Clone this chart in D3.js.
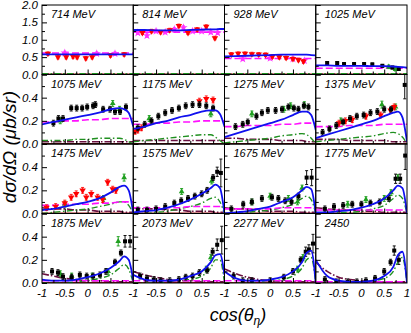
<!DOCTYPE html>
<html>
<head>
<meta charset="utf-8">
<script src="https://cdn.jsdelivr.net/npm/d3@7"></script>
<style>
body{margin:0;background:#fff;}
text{font-family:"Liberation Sans",Arial,sans-serif;font-style:italic;}
</style>
</head>
<body>
<svg width="411" height="333"></svg>
<script>
const svg=d3.select("svg");
const x0=42, colW=91.25, y0=5, rowH=69.5;

const energies=["714 MeV","814 MeV","928 MeV","1025 MeV","1075 MeV","1175 MeV","1275 MeV","1375 MeV",
  "1475 MeV","1575 MeV","1675 MeV","1775 MeV","1875 MeV","2073 MeV","2277 MeV","2450"];
const cosGrid=[-1,-0.75,-0.5,-0.25,0,0.25,0.5,0.7,0.8,0.9,1];

// full model (blue)
const blueCurves=[
  [0.58,0.58,0.58,0.58,0.58,0.58,0.58,0.58,0.58,0.58,0.58],
  [1.28,1.28,1.27,1.27,1.27,1.28,1.29,1.3,1.3,1.31,1.31],
  [0.52,0.53,0.54,0.55,0.56,0.57,0.57,0.57,0.57,0.56,0.55],
  [0.26,0.26,0.25,0.25,0.25,0.24,0.24,0.23,0.22,0.21,0.2],
  [0.17,0.19,0.21,0.23,0.25,0.27,0.3,0.31,0.3,0.27,0.15],
  [0.13,0.15,0.18,0.2,0.23,0.25,0.28,0.29,0.29,0.26,0.15],
  [0.06,0.09,0.12,0.15,0.18,0.21,0.25,0.28,0.28,0.25,0.12],
  [0.05,0.08,0.11,0.14,0.17,0.2,0.24,0.27,0.28,0.23,0.02],
  [0.03,0.04,0.06,0.08,0.1,0.13,0.18,0.23,0.24,0.2,0.0],
  [0.01,0.02,0.03,0.05,0.08,0.12,0.17,0.22,0.25,0.22,0.0],
  [0.0,0.01,0.02,0.04,0.06,0.1,0.14,0.2,0.23,0.21,0.0],
  [0.01,0.01,0.02,0.03,0.05,0.08,0.13,0.2,0.24,0.22,0.0],
  [0.03,0.02,0.02,0.03,0.05,0.08,0.13,0.19,0.23,0.2,0.02],
  [0.07,0.03,0.02,0.02,0.03,0.06,0.1,0.18,0.24,0.25,0.07],
  [0.1,0.04,0.02,0.02,0.03,0.05,0.1,0.18,0.26,0.28,0.0],
  [0.2,0.06,0.02,0.01,0.01,0.02,0.06,0.14,0.24,0.27,0.0]
];
// magenta dashed
const magentaCurves=[
  [0.62,0.62,0.62,0.62,0.62,0.62,0.62,0.62,0.62,0.62,0.62],
  [1.22,1.22,1.22,1.22,1.22,1.22,1.22,1.22,1.22,1.22,1.22],
  [0.46,0.46,0.46,0.46,0.46,0.46,0.46,0.46,0.46,0.46,0.46],
  [0.18,0.18,0.18,0.18,0.18,0.18,0.18,0.18,0.18,0.18,0.18],
  [0.19,0.19,0.2,0.2,0.21,0.21,0.22,0.22,0.22,0.22,0.22],
  [0.17,0.17,0.18,0.18,0.19,0.19,0.2,0.2,0.2,0.2,0.2],
  [0.15,0.15,0.16,0.16,0.16,0.17,0.17,0.18,0.18,0.18,0.18],
  [0.15,0.15,0.15,0.16,0.16,0.16,0.17,0.17,0.17,0.17,0.17],
  [0.07,0.07,0.08,0.08,0.08,0.09,0.09,0.1,0.1,0.1,0.1],
  [0.05,0.05,0.05,0.05,0.05,0.06,0.06,0.06,0.06,0.06,0.06],
  [0.04,0.04,0.04,0.04,0.04,0.05,0.05,0.05,0.05,0.05,0.05],
  [0.03,0.03,0.03,0.03,0.03,0.03,0.03,0.03,0.03,0.03,0.03],
  [0.02,0.02,0.02,0.02,0.02,0.02,0.02,0.02,0.02,0.02,0.02],
  [0.02,0.02,0.02,0.02,0.02,0.02,0.02,0.02,0.02,0.02,0.02],
  [0.02,0.02,0.02,0.02,0.02,0.02,0.02,0.02,0.02,0.02,0.02],
  [0.01,0.01,0.01,0.01,0.01,0.01,0.01,0.01,0.01,0.01,0.01]
];
// green dash-dot
const greenCurves=[
  [0.02,0.02,0.02,0.02,0.02,0.02,0.02,0.02,0.02,0.02,0.02],
  [0.02,0.02,0.02,0.02,0.02,0.02,0.02,0.02,0.02,0.02,0.02],
  [0.02,0.02,0.02,0.02,0.02,0.02,0.02,0.02,0.02,0.02,0.02],
  [0.02,0.02,0.02,0.02,0.02,0.02,0.02,0.02,0.02,0.02,0.02],
  [0.03,0.03,0.03,0.04,0.04,0.05,0.05,0.05,0.04,0.02,0.0],
  [0.02,0.03,0.04,0.05,0.06,0.07,0.08,0.08,0.06,0.03,0.0],
  [0.01,0.02,0.03,0.04,0.05,0.07,0.08,0.09,0.08,0.05,0.0],
  [0.02,0.03,0.04,0.05,0.06,0.07,0.09,0.1,0.09,0.06,0.0],
  [0.0,0.01,0.02,0.03,0.04,0.06,0.08,0.1,0.1,0.07,0.0],
  [0.0,0.0,0.01,0.02,0.04,0.06,0.09,0.13,0.14,0.1,0.0],
  [0.0,0.0,0.01,0.02,0.03,0.05,0.08,0.13,0.15,0.12,0.0],
  [0.0,0.0,0.01,0.01,0.02,0.04,0.07,0.13,0.16,0.13,0.0],
  [0.0,0.0,0.0,0.01,0.02,0.04,0.07,0.13,0.16,0.12,0.0],
  [0.0,0.0,0.0,0.01,0.02,0.03,0.06,0.13,0.2,0.2,0.0],
  [0.0,0.0,0.0,0.01,0.01,0.03,0.06,0.13,0.2,0.22,0.0],
  [0.0,0.0,0.0,0.0,0.01,0.02,0.04,0.1,0.18,0.22,0.0]
];
// dark purple long dash
const purpleCurves=[
  [0.01,0.01,0.01,0.01,0.01,0.01,0.01,0.01,0.01,0.01,0.01],
  [0.01,0.01,0.01,0.01,0.01,0.01,0.01,0.01,0.01,0.01,0.01],
  [0.01,0.01,0.01,0.01,0.01,0.01,0.01,0.01,0.01,0.01,0.01],
  [0.01,0.01,0.01,0.01,0.01,0.01,0.01,0.01,0.01,0.01,0.01],
  [0.02,0.02,0.02,0.02,0.02,0.02,0.02,0.02,0.02,0.02,0.02],
  [0.03,0.03,0.03,0.03,0.03,0.03,0.03,0.03,0.03,0.03,0.03],
  [0.05,0.05,0.04,0.04,0.04,0.03,0.03,0.03,0.02,0.02,0.02],
  [0.04,0.04,0.04,0.03,0.03,0.03,0.03,0.02,0.02,0.02,0.02],
  [0.05,0.04,0.04,0.03,0.03,0.02,0.02,0.02,0.01,0.01,0.01],
  [0.05,0.04,0.04,0.03,0.03,0.02,0.02,0.02,0.01,0.01,0.01],
  [0.05,0.04,0.04,0.03,0.02,0.02,0.02,0.01,0.01,0.01,0.01],
  [0.05,0.04,0.03,0.03,0.02,0.02,0.01,0.01,0.01,0.01,0.01],
  [0.08,0.06,0.04,0.03,0.02,0.02,0.01,0.01,0.01,0.01,0.01],
  [0.1,0.07,0.05,0.03,0.02,0.02,0.01,0.01,0.01,0.01,0.01],
  [0.12,0.08,0.05,0.03,0.02,0.01,0.01,0.01,0.01,0.01,0.01],
  [0.18,0.1,0.05,0.03,0.02,0.01,0.01,0.01,0.01,0.01,0.01]
];

// data points [cos, value, error]
const blackPts=[
  [],[],[],
  [[-0.75,0.33,0.04],[-0.53,0.33,0.04],[-0.38,0.3,0.04],[-0.16,0.3,0.04],[0.06,0.3,0.04],[0.24,0.29,0.04],[0.46,0.25,0.04],[0.68,0.2,0.04],[0.82,0.16,0.04]],
  [[-0.75,0.18],[-0.64,0.22],[-0.54,0.22],[-0.36,0.31],[-0.24,0.31],[-0.12,0.31],[-0.01,0.32],[0.12,0.33],[0.17,0.34],[0.34,0.3],[0.49,0.3],[0.6,0.28],[0.71,0.28],[0.84,0.32]],
  [[-0.9,0.14],[-0.75,0.17],[-0.6,0.2],[-0.45,0.24],[-0.3,0.27],[-0.15,0.29],[0,0.31],[0.15,0.33],[0.3,0.34],[0.45,0.34],[0.6,0.33],[0.75,0.31]],
  [[-0.76,0.15],[-0.6,0.17],[-0.49,0.19],[-0.3,0.24],[-0.18,0.27],[-0.05,0.29],[0.12,0.29],[0.26,0.3],[0.4,0.32],[0.52,0.31],[0.62,0.3],[0.74,0.33],[0.84,0.32]],
  [[-0.85,0.1],[-0.7,0.13],[-0.55,0.16],[-0.4,0.19],[-0.25,0.22],[-0.1,0.24],[0.05,0.25],[0.2,0.27],[0.35,0.28],[0.5,0.3],[0.65,0.3],[0.95,0.51,0.12]],
  [],
  [[-0.9,0.03],[-0.7,0.03],[-0.5,0.04],[-0.3,0.06],[-0.1,0.09],[0.05,0.11],[0.2,0.13],[0.35,0.15],[0.5,0.17],[0.62,0.2],[0.75,0.31],[0.84,0.36,0.04],[0.92,0.35,0.12]],
  [[-0.85,0.04],[-0.59,0.08],[-0.4,0.1],[-0.18,0.13],[0.04,0.14],[0.18,0.13],[0.33,0.11],[0.47,0.1],[0.62,0.15],[0.8,0.31,0.06],[0.91,0.31,0.07]],
  [[-0.8,0.04],[-0.6,0.06],[-0.4,0.07],[-0.2,0.08],[0,0.08],[0.2,0.09],[0.4,0.1],[0.6,0.13],[0.75,0.3,0.04],[0.85,0.3,0.04],[0.96,0.5,0.12]],
  [[-0.78,0.1],[-0.65,0.09],[-0.54,0.055],[-0.35,0.05],[-0.17,0.07],[-0.02,0.06],[0.12,0.06],[0.27,0.07],[0.4,0.1],[0.6,0.18],[0.73,0.26],[0.82,0.36,0.05],[0.93,0.36,0.05]],
  [[-0.85,0.06],[-0.7,0.04],[-0.55,0.03],[-0.4,0.02],[-0.2,0.02],[0,0.03],[0.15,0.05],[0.3,0.06],[0.45,0.09],[0.62,0.11],[0.74,0.27,0.03],[0.84,0.33,0.05],[0.94,0.37,0.12]],
  [[-0.8,0.06],[-0.6,0.02],[-0.4,0.02],[0,0.02],[0.3,0.05],[0.5,0.1],[0.67,0.2],[0.78,0.27,0.04],[0.85,0.29,0.04],[0.94,0.34,0.08]],
  [[-0.8,0.03],[-0.55,0.01],[-0.3,0.01],[-0.1,0.01],[0.1,0.02],[0.3,0.04],[0.5,0.1],[0.64,0.18],[0.72,0.28,0.04],[0.82,0.2,0.04]]
];
const redPts=[
  [[-0.87,0.6],[-0.65,0.5],[-0.47,0.5],[-0.32,0.52],[-0.23,0.5],[-0.04,0.47],[0.1,0.5],[0.5,0.55],[0.8,0.58]],
  [[-0.8,1.2],[-0.6,1.25],[-0.4,1.22],[-0.2,1.28],[0,1.4],[0.2,1.2],[0.4,1.3],[0.6,1.38],[0.79,1.05]],
  [[-0.85,0.58],[-0.7,0.6],[-0.55,0.6],[-0.4,0.59],[-0.25,0.58],[-0.1,0.57],[0.05,0.52],[0.2,0.5],[0.35,0.48],[0.5,0.45],[0.62,0.42],[0.73,0.38]],
  [],[],
  [[-0.96,0.11],[-0.9,0.12],[-0.82,0.14],[0.45,0.37],[0.6,0.39],[0.75,0.38]],
  [],
  [[-0.49,0.18],[-0.35,0.2],[-0.2,0.21],[0.1,0.24],[0.42,0.25],[0.64,0.29],[0.72,0.32]],
  [[-0.9,0.05],[-0.7,0.06],[-0.5,0.09],[-0.36,0.14],[-0.25,0.17],[-0.11,0.2],[-0.03,0.14],[0.08,0.17],[0.22,0.14],[0.33,0.12],[0.44,0.27],[0.55,0.21],[0.62,0.2]],
  [],[],[],[],[],[],[]
];
const greenPts=[
  [],[],[],
  [[0.6,0.22],[0.75,0.15]],
  [[-0.6,0.2],[0.55,0.35],[0.7,0.3]],
  [[-0.65,0.22],[0.7,0.26]],
  [[-0.4,0.26],[0.3,0.3],[0.45,0.33],[0.75,0.34]],
  [[-0.45,0.2],[0.45,0.34,0.03],[0.75,0.32]],
  [[-0.5,0.08],[0.35,0.13],[0.8,0.31,0.03]],
  [[0.06,0.19],[0.72,0.28]],
  [[-0.4,0.1],[0.0,0.15],[0.4,0.13],[0.6,0.1],[0.7,0.22]],
  [[-0.3,0.08],[0.1,0.12],[0.5,0.13],[0.65,0.18],[0.8,0.31]],
  [[-0.6,0.08],[-0.35,0.06],[0.1,0.06],[0.45,0.1],[0.67,0.36,0.04]],
  [[0.6,0.12],[0.7,0.22]],
  [[0.6,0.12],[0.72,0.22]],
  []
];
const starPts=[
  [[-0.5,0.62],[0.2,0.6],[0.6,0.6]],
  [[-0.9,1.2],[-0.7,1.12],[-0.5,1.25],[-0.3,1.22],[-0.1,1.3],[0.1,1.35],[0.3,1.25],[0.5,1.25],[0.7,1.22],[0.85,1.2]],
  [[-0.6,0.45],[0.0,0.47],[0.5,0.45],[0.75,0.4]],
  [],[],[],[],[],[],[],[],[],[],[],[],[]
];

const defs=svg.append("defs");
const line=(x,y)=>d3.line().x(d=>x(d[0])).y(d=>y(d[1])).curve(d3.curveMonotoneX);

energies.forEach((lab,i)=>{
  const r=Math.floor(i/4), c=i%4;
  const left=x0+c*colW, top=y0+r*rowH;
  const x=d3.scaleLinear().domain([-1,1]).range([left,left+colW]);
  const y=d3.scaleLinear().domain(r==0?[0,2]:[0,0.6]).range([top+rowH,top]);
  const defErr=r==0?0.05:0.025;

  defs.append("clipPath").attr("id","cp"+i).append("rect")
    .attr("x",left).attr("y",top).attr("width",colW).attr("height",rowH);
  const g=svg.append("g").attr("clip-path","url(#cp"+i+")");

  // ticks inward
  const yMajor=r==0?d3.range(0,2.01,0.5):d3.range(0,0.61,0.2);
  const yMinor=r==0?d3.range(0.25,2,0.5):d3.range(0.1,0.6,0.2);
  svg.append("g").attr("transform","translate("+left+",0)")
    .call(d3.axisRight(y).tickValues(yMajor).tickSize(5).tickFormat(""))
    .call(a=>a.select(".domain").remove());
  svg.append("g").attr("transform","translate("+left+",0)")
    .call(d3.axisRight(y).tickValues(yMinor).tickSize(3).tickFormat(""))
    .call(a=>a.select(".domain").remove());
  svg.append("g").attr("transform","translate(0,"+(top+rowH)+")")
    .call(d3.axisTop(x).tickValues([-0.5,0,0.5]).tickSize(5).tickFormat(""))
    .call(a=>a.select(".domain").remove());
  svg.append("g").attr("transform","translate(0,"+(top+rowH)+")")
    .call(d3.axisTop(x).tickValues([-0.75,-0.25,0.25,0.75]).tickSize(3).tickFormat(""))
    .call(a=>a.select(".domain").remove());

  // baseline dark red
  g.append("line").attr("x1",left).attr("x2",left+colW)
    .attr("y1",y(0)-0.5).attr("y2",y(0)-0.5).attr("stroke","#a01010").attr("stroke-width",1.2);

  const toPts=arr=>cosGrid.map((cx,k)=>[cx,arr[k]]);
  g.append("path").attr("d",line(x,y)(toPts(purpleCurves[i]))).attr("fill","none")
    .attr("stroke","#6a1040").attr("stroke-width",1.6).attr("stroke-dasharray","7,2,1.5,2");
  g.append("path").attr("d",line(x,y)(toPts(greenCurves[i]))).attr("fill","none")
    .attr("stroke","#209020").attr("stroke-width",1.4).attr("stroke-dasharray","6,2.5,1.5,2.5");
  g.append("path").attr("d",line(x,y)(toPts(magentaCurves[i]))).attr("fill","none")
    .attr("stroke","#ff10ff").attr("stroke-width",1.6).attr("stroke-dasharray","7,3");

  // data
  const errBars=(pts,color)=>{
    pts.forEach(p=>{
      const e=p[2]!==undefined?p[2]:defErr, px=x(p[0]);
      g.append("line").attr("x1",px).attr("x2",px).attr("y1",y(p[1]-e)).attr("y2",y(p[1]+e))
        .attr("stroke",color).attr("stroke-width",1);
      [p[1]-e,p[1]+e].forEach(v=>g.append("line").attr("x1",px-1.5).attr("x2",px+1.5)
        .attr("y1",y(v)).attr("y2",y(v)).attr("stroke",color).attr("stroke-width",1));
    });
  };
  errBars(starPts[i],"#ff40ff");
  starPts[i].forEach(p=>g.append("path").attr("d",d3.symbol(d3.symbolStar,22)())
    .attr("transform","translate("+x(p[0])+","+y(p[1])+")").attr("fill","#ff30ff"));
  errBars(greenPts[i],"#20a020");
  greenPts[i].forEach(p=>g.append("path").attr("d",d3.symbol(d3.symbolTriangle,14)())
    .attr("transform","translate("+x(p[0])+","+y(p[1])+")").attr("fill","#20a020"));
  errBars(redPts[i],"#ff2020");
  redPts[i].forEach(p=>g.append("path").attr("d",d3.symbol(d3.symbolTriangle,18)())
    .attr("transform","translate("+x(p[0])+","+y(p[1])+") rotate(180)").attr("fill","#ff0000"));
  errBars(blackPts[i],"#111");
  blackPts[i].forEach(p=>g.append("rect").attr("x",x(p[0])-2).attr("y",y(p[1])-2)
    .attr("width",4).attr("height",4).attr("fill","#000"));

  g.append("path").attr("d",line(x,y)(toPts(blueCurves[i]))).attr("fill","none")
    .attr("stroke","#1010ee").attr("stroke-width",1.8);

  // frame
  svg.append("rect").attr("x",left).attr("y",top).attr("width",colW).attr("height",rowH)
    .attr("fill","none").attr("stroke","#000").attr("stroke-width",1);

  svg.append("text").attr("x",left+9).attr("y",top+13).attr("font-size",11).text(lab);

  if(c==0){
    const labs=r==0?[0,0.5,1,1.5,2]:[0,0.2,0.4];
    labs.forEach(v=>svg.append("text").attr("x",left-4).attr("y",y(v)+4)
      .attr("text-anchor","end").attr("font-size",11.5).text(d3.format(".1f")(v)));
  }
  if(r==3){
    const labs=c==3?[-1,-0.5,0,0.5,1]:[-1,-0.5,0,0.5];
    labs.forEach(v=>svg.append("text").attr("x",x(v)).attr("y",top+rowH+14)
      .attr("text-anchor","middle").attr("font-size",11.5).text(v));
  }
});

svg.append("text").attr("transform","translate(16,147) rotate(-90)")
  .attr("text-anchor","middle").attr("font-size",19).text("dσ/dΩ (μb/sr)");
const xt=svg.append("text").attr("x",238).attr("y",321).attr("text-anchor","middle").attr("font-size",18);
xt.append("tspan").text("cos(θ");
xt.append("tspan").attr("font-size",12).attr("dy",4).text("η");
xt.append("tspan").attr("dy",-4).text(")");
</script>
</body>
</html>
